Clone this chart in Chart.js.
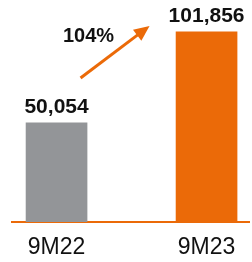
<!DOCTYPE html>
<html>
<head>
<meta charset="utf-8">
<script src="https://cdn.jsdelivr.net/npm/chart.js@4"></script>
<style>
  html, body { margin: 0; padding: 0; background: #fff; }
  #wrap { width: 252px; height: 262px; }
</style>
</head>
<body>
<div id="wrap"><canvas id="myChart"></canvas></div>
<script>
// data
var categories = ['9M22', '9M23']
var values = [50054, 101856]
var valueLabels = ['50,054', '101,856']
var barColors = ['#939598', '#EB6A08']
var growthLabel = '104%'

var ORANGE = '#EB6A08'
var Y_MIN = -6300
var Y_MAX = 120000

// value labels above the bars, plus the growth arrow
var annotate = {
  id: 'annotate',
  afterDatasetsDraw: function (chart) {
    var ctx = chart.ctx
    var bars = chart.getDatasetMeta(0).data
    ctx.save()
    ctx.fillStyle = '#111'
    ctx.font = 'bold 21px "Liberation Sans", Arial, sans-serif'
    ctx.textAlign = 'center'
    ctx.textBaseline = 'alphabetic'
    bars.forEach(function (bar, i) {
      var w = ctx.measureText(valueLabels[i]).width
      var x = Math.min(bar.x, chart.width - 3 - w / 2)
      ctx.fillText(valueLabels[i], x, bar.y - 10)
    })

    // arrow from the small bar towards the big one
    var x0 = bars[0].x + 24, y0 = bars[0].y - 45
    var x1 = bars[1].x - 57, y1 = bars[1].y - 6
    var ang = Math.atan2(y1 - y0, x1 - x0)
    var head = 17
    ctx.strokeStyle = ORANGE
    ctx.fillStyle = ORANGE
    ctx.lineWidth = 3
    ctx.beginPath()
    ctx.moveTo(x0, y0)
    ctx.lineTo(x1 - Math.cos(ang) * head * 0.8, y1 - Math.sin(ang) * head * 0.8)
    ctx.stroke()
    ctx.beginPath()
    ctx.moveTo(x1, y1)
    ctx.lineTo(x1 - head * Math.cos(ang - 0.42), y1 - head * Math.sin(ang - 0.42))
    ctx.lineTo(x1 - head * Math.cos(ang + 0.42), y1 - head * Math.sin(ang + 0.42))
    ctx.closePath()
    ctx.fill()

    ctx.fillStyle = '#111'
    ctx.font = 'bold 20px "Liberation Sans", Arial, sans-serif'
    ctx.fillText(growthLabel, (bars[0].x + bars[1].x) / 2 - 43, 42)
    ctx.restore()
  }
}

var ctx = document.getElementById('myChart').getContext('2d')
var chart = new Chart(ctx, {
  type: 'bar',
  data: {
    datasets: [{
      data: categories.map(function (c, i) { return { x: i, y: values[i] } }),
      backgroundColor: barColors,
      base: Y_MIN,
      barThickness: 61
    }]
  },
  options: {
    responsive: true,
    maintainAspectRatio: false,
    animation: false,
    layout: { padding: { left: 12, right: 3, top: 0, bottom: 0 } },
    plugins: { legend: { display: false }, tooltip: { enabled: false } },
    scales: {
      x: {
        type: 'linear',
        offset: false,
        min: -0.297,
        max: 1.283,
        afterFit: function (scale) { scale.height = 40 },
        grid: { display: false, drawTicks: false, offset: false },
        border: { display: true, color: ORANGE, width: 2 },
        ticks: {
          stepSize: 1,
          includeBounds: false,
          autoSkip: false,
          maxRotation: 0,
          padding: 12,
          color: '#111',
          font: { family: '"Liberation Sans", Arial, sans-serif', size: 23 },
          callback: function (v) { return categories[v] || '' }
        }
      },
      y: {
        display: false,
        min: Y_MIN,
        max: Y_MAX
      }
    }
  },
  plugins: [annotate]
})
</script>
</body>
</html>
